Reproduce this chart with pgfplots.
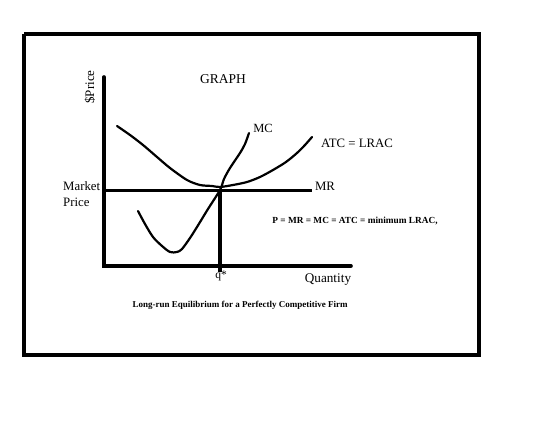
\documentclass[border=0pt]{standalone}
\usepackage{pgfplots}
\pgfplotsset{compat=1.18}
\usepackage{fontspec}
\setmainfont{Liberation Serif}
\begin{document}
\begin{tikzpicture}
\begin{axis}[
  scale only axis, width=560pt, height=430pt,
  xmin=0, xmax=560, ymin=0, ymax=430, y dir=reverse,
  hide axis, clip=false,
]
\path (axis cs:0,0) rectangle (axis cs:560,430);
% border
\addplot[black, line width=3.5pt] coordinates {(24,34) (479,34) (479,355) (24,355) (24,34)};
% axes
\addplot[black, line width=3.6pt, line cap=round] coordinates {(104,77) (104,266) (351,266)};
% MR
\addplot[black, line width=3.6pt] coordinates {(104,190.5) (312,190.5)};
% q* vertical
\addplot[black, line width=3.6pt] coordinates {(220,190) (220,272)};
% ATC = LRAC
\addplot[black, line width=2.2pt, smooth, line cap=round] coordinates {
 (117,126) (130,135) (143,145) (157,157) (170,168) (187,180) (200,185) (212,186) (220,187)
 (233,185) (247,182) (260,177) (273,170) (286,162) (297,153) (305,145) (312,137)};
% MC
\addplot[black, line width=2.2pt, smooth, line cap=round] coordinates {
 (138,211) (145,224) (153,237) (162,246) (170,252) (177,252) (182,249) (190,238) (197,227)
 (208,209) (220,190) (224,179) (230,168) (240,153) (245,144) (249,133)};
% labels
\node[font=\fontsize{13}{15}\selectfont, rotate=90] at (axis cs:90,87) {\$Price};
\node[font=\fontsize{13.5}{15}\selectfont] at (axis cs:223,79) {GRAPH};
\node[font=\fontsize{12.5}{15}\selectfont] at (axis cs:263,128) {MC};
\node[font=\fontsize{12.8}{15}\selectfont] at (axis cs:357,143) {ATC = LRAC};
\node[font=\fontsize{12.8}{15}\selectfont] at (axis cs:325,186) {MR};
\node[font=\fontsize{12.8}{16}\selectfont, anchor=west, align=left, inner sep=0pt] at (axis cs:63,194) {Market\\Price};
\node[font=\bfseries\fontsize{9.3}{11}\selectfont] at (axis cs:355,221) {P = MR = MC = ATC = minimum LRAC,};
\node[font=\fontsize{11.5}{13}\selectfont, inner sep=0pt] at (axis cs:221,276) {q*};
\node[font=\fontsize{13.2}{15}\selectfont] at (axis cs:328,280) {Quantity};
\node[font=\bfseries\fontsize{9}{11}\selectfont] at (axis cs:240,305) {Long-run Equilibrium for a Perfectly Competitive Firm};
\end{axis}
\end{tikzpicture}
\end{document}
